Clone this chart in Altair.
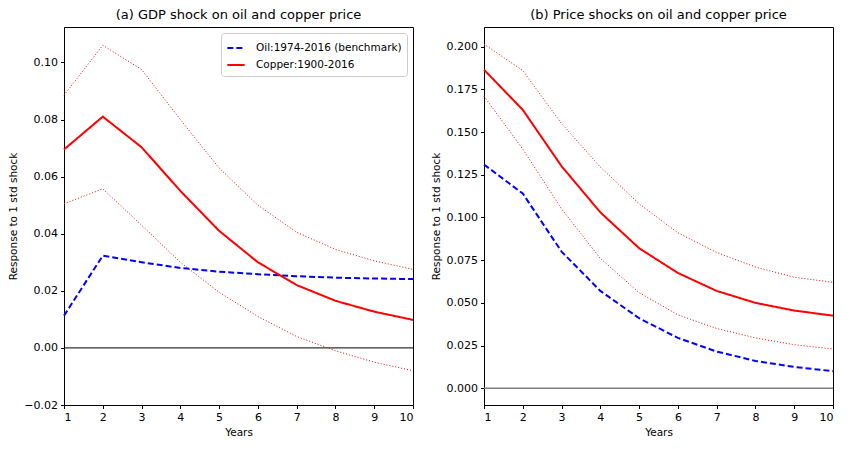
import altair as alt
import pandas as pd

years = [1, 2, 3, 4, 5, 6, 7, 8, 9, 10]

# Panel (a): GDP shock
a_copper = [0.0695, 0.0810, 0.0703, 0.0550, 0.0410, 0.0300, 0.0220, 0.0165, 0.0127, 0.0098]
a_copper_hi = [0.0885, 0.1060, 0.0975, 0.0800, 0.0630, 0.0500, 0.0405, 0.0345, 0.0305, 0.0275]
a_copper_lo = [0.0505, 0.0557, 0.0430, 0.0300, 0.0195, 0.0110, 0.0040, -0.0010, -0.0050, -0.0080]
a_oil = [0.0113, 0.0323, 0.0300, 0.0280, 0.0267, 0.0258, 0.0251, 0.0246, 0.0243, 0.0241]

# Panel (b): Price shocks
b_copper = [0.1865, 0.1630, 0.1300, 0.1030, 0.0820, 0.0675, 0.0570, 0.0500, 0.0455, 0.0425]
b_copper_hi = [0.2015, 0.1860, 0.1550, 0.1295, 0.1080, 0.0910, 0.0795, 0.0710, 0.0650, 0.0620]
b_copper_lo = [0.1710, 0.1400, 0.1050, 0.0760, 0.0560, 0.0430, 0.0350, 0.0295, 0.0255, 0.0230]
b_oil = [0.1310, 0.1140, 0.0800, 0.0570, 0.0410, 0.0295, 0.0215, 0.0160, 0.0125, 0.0100]

a_ticks = [-0.02, 0.0, 0.02, 0.04, 0.06, 0.08, 0.10]
b_ticks = [0.0, 0.025, 0.05, 0.075, 0.1, 0.125, 0.15, 0.175, 0.2]

oil_label = "Oil:1974-2016 (benchmark)"
copper_label = "Copper:1900-2016"

FONT = "DejaVu Sans"
W, H = 349, 378


def panel(title, copper, hi, lo, oil, ydomain, tvals, yfmt, zero_color, zero_width, show_legend):
    main = pd.DataFrame({
        "Years": years * 2,
        "value": oil + copper,
        "series": [oil_label] * 10 + [copper_label] * 10,
    })
    band = pd.DataFrame({
        "Years": years * 2,
        "value": hi + lo,
        "band": ["hi"] * 10 + ["lo"] * 10,
    })
    x = alt.X("Years:Q", scale=alt.Scale(domain=[1, 10], nice=False),
              axis=alt.Axis(values=years, format="d", title="Years"))
    y = alt.Y("value:Q", scale=alt.Scale(domain=ydomain, nice=False, zero=False),
              axis=alt.Axis(values=tvals, format=yfmt, title="Response to 1 std shock"))
    zero = alt.Chart(pd.DataFrame({"z": [0.0]})).mark_rule(
        color=zero_color, strokeWidth=zero_width).encode(y=alt.Y("z:Q"))
    bands = alt.Chart(band).mark_line(color="#ff0000", strokeWidth=1, strokeDash=[1, 2]).encode(
        x=x, y=y, detail="band:N")
    col_kw = dict(scale=alt.Scale(domain=[oil_label, copper_label], range=["#0000ff", "#ff0000"]))
    dash_kw = dict(scale=alt.Scale(domain=[oil_label, copper_label], range=[[6, 3], [1, 0]]))
    if show_legend:
        legend = alt.Legend(title=None, orient="top-right", fillColor="white", strokeColor="#cccccc",
                            padding=5, cornerRadius=3, labelFont=FONT, labelFontSize=10.5,
                            symbolType="stroke", symbolStrokeWidth=2, symbolSize=300,
                            labelColor="black", offset=6, rowPadding=1, labelOffset=10)
        col = alt.Color("series:N", legend=legend, sort=[oil_label, copper_label], **col_kw)
        dash = alt.StrokeDash("series:N", legend=legend, sort=[oil_label, copper_label], **dash_kw)
    else:
        col = alt.Color("series:N", legend=None, **col_kw)
        dash = alt.StrokeDash("series:N", legend=None, **dash_kw)
    lines = alt.Chart(main).mark_line(strokeWidth=2).encode(x=x, y=y, color=col, strokeDash=dash)
    return alt.layer(zero, bands, lines).properties(
        width=W, height=H,
        title=alt.TitleParams(title, font=FONT, fontSize=13, fontWeight="normal", offset=5))


left = panel("(a) GDP shock on oil and copper price", a_copper, a_copper_hi, a_copper_lo, a_oil,
             [-0.02, 0.1124], a_ticks, ".2f", "black", 1, True)
right = panel("(b) Price shocks on oil and copper price", b_copper, b_copper_hi, b_copper_lo, b_oil,
              [-0.0098, 0.2115], b_ticks, ".3f", "#808080", 1.5, False)

chart = alt.hconcat(left, right, spacing=12).resolve_scale(
    color="independent", strokeDash="independent", y="independent"
).properties(
    padding={"left": 0, "top": 0, "right": 0, "bottom": 0}
).configure_view(
    stroke="black", strokeWidth=1
).configure_axis(
    labelFont=FONT, titleFont=FONT, labelFontSize=11, titleFontSize=10.5, titleFontWeight="normal",
    labelColor="black", titleColor="black", domainColor="black", tickColor="black",
    tickSize=3.5, grid=False, labelPadding=3, titlePadding=5
).configure_title(anchor="middle", color="black")

chart.save("out.html", embed_options={"renderer": "svg", "actions": False})
